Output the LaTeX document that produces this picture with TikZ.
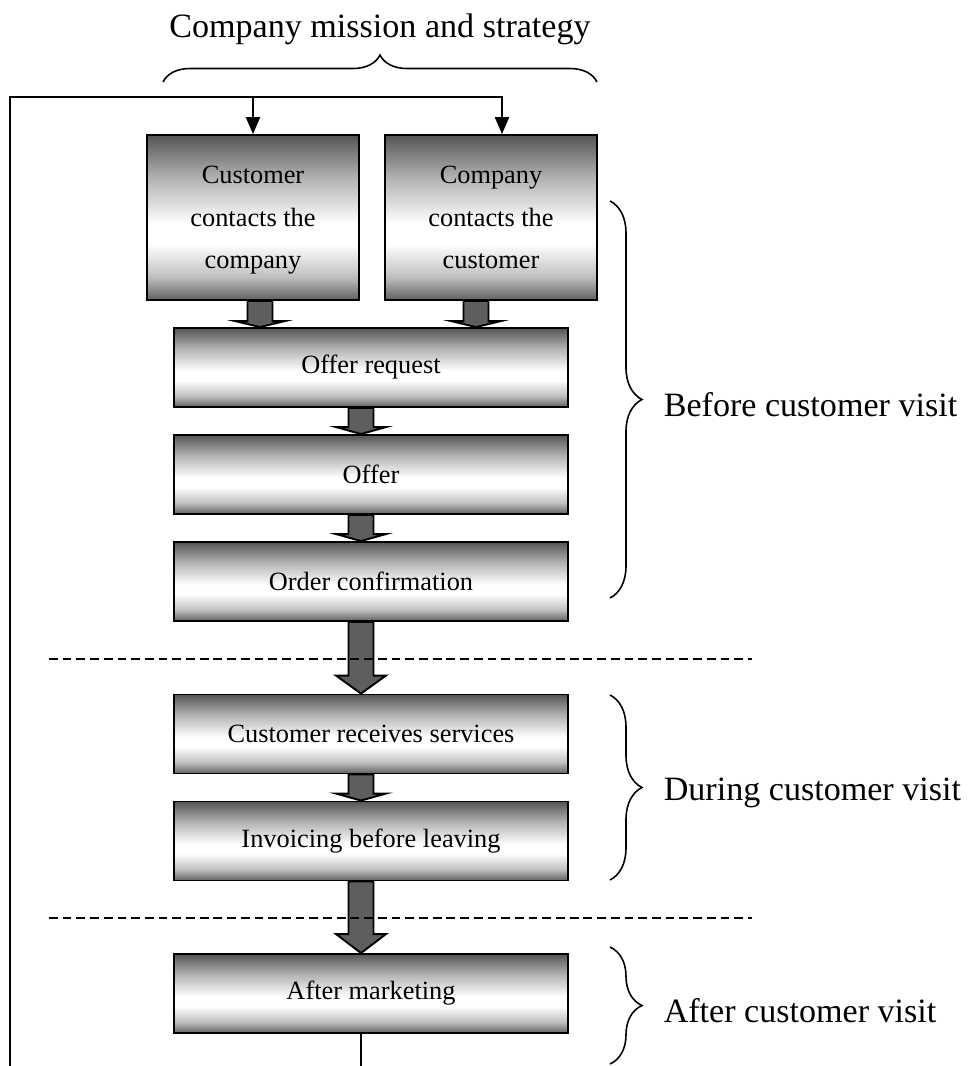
\documentclass[tikz,border=0pt]{standalone}
\usepackage{fontspec}
\setmainfont{Liberation Serif}
\usetikzlibrary{positioning,calc,arrows.meta,decorations.pathreplacing}

\pgfdeclareverticalshading{boxshade}{100bp}{color(0bp)=(black!62); color(25bp)=(black!62); color(32bp)=(black!25); color(42bp)=(white); color(48bp)=(white); color(62bp)=(black!30); color(75bp)=(black!67); color(100bp)=(black!67)}

\tikzset{
  stepbox/.style={draw=black, line width=1.1pt, shading=boxshade, inner sep=0pt,
    align=center, font=\fontsize{15pt}{24.4pt}\selectfont},
  widebox/.style={stepbox, minimum width=7.88cm, minimum height=1.58cm},
  topbox/.style={stepbox, minimum width=4.24cm, minimum height=3.3cm},
  fatarrow/.style={draw=black, line width=1.1pt, fill=black!63, line join=miter},
  loopline/.style={black, line width=1pt},
  sepline/.style={black, line width=0.9pt, dash pattern=on 5pt off 2.8pt},
  brc/.style={black, line width=0.9pt, decorate},
  lbl/.style={inner sep=0pt, font=\fontsize{19.4pt}{23pt}\selectfont}
}

\newcommand{\fatarrow}[4]{%
  \filldraw[fatarrow] ($(#1,0 |- #2.south)+(-12.5,0)$) -- ($(#1,0 |- #3.north)+(-12.5,#4)$)
    -- ++(-12.5,0) -- (#1,0 |- #3.north) -- ($(#1,0 |- #3.north)+(25,#4)$)
    -- ++(-12.5,0) -- ($(#1,0 |- #2.south)+(12.5,0)$) -- cycle;}

\begin{document}
\begin{tikzpicture}[x=0.02cm, y=0.02cm]
\useasboundingbox (0,0) rectangle (970,-1066);

\node[topbox] (custc) at (253,-217.5) {Customer\strut\\contacts the\\company\strut};
\node[topbox] (compc) at (491,-217.5) {Company\strut\\contacts the\\customer\strut};
\node[widebox] (oreq) at (371,-367.5) {Offer request};
\node[widebox] (offer) at (371,-474.5) {Offer};
\node[widebox] (oconf) at (371,-581.5) {Order confirmation};
\node[widebox] (recv) at (371,-734) {Customer receives services};
\node[widebox] (invo) at (371,-841) {Invoicing before leaving};
\node[widebox] (aftm) at (371,-993.5) {After marketing};

\fatarrow{260}{custc}{oreq}{6}
\fatarrow{476}{compc}{oreq}{6}
\fatarrow{361}{oreq}{offer}{7}
\fatarrow{361}{offer}{oconf}{7}
\fatarrow{361}{oconf}{recv}{18}
\fatarrow{361}{recv}{invo}{7}
\fatarrow{361}{invo}{aftm}{19}

\draw[sepline] (49,-659) -- (752,-659);
\draw[sepline] (49,-918) -- (752,-918);

\draw[loopline, -{Triangle[length=9.6pt,width=8pt]}] (10,-1066) -- (10,-97) -- (502,-97)
    -- (502,0 |- compc.north);
\draw[loopline, -{Triangle[length=9.6pt,width=8pt]}] (253,-97) -- (custc.north);
\draw[loopline] (aftm.south -| 361,0) -- (361,-1066);

\draw[brc, decoration={brace, amplitude=0.54cm}] (163,-82) -- (597,-82)
    node[midway, above=0.72cm, lbl] (mission) {Company mission and strategy};
\draw[brc, decoration={brace, amplitude=0.64cm}] (610,-201) -- (610,-598)
    node[midway, right=1.06cm, yshift=-0.1cm, lbl] (before) {Before customer visit};
\draw[brc, decoration={brace, amplitude=0.64cm}] (610,-695) -- (610,-880)
    node[midway, right=1.06cm, yshift=-0.1cm, lbl] (during) {During customer visit};
\draw[brc, decoration={brace, amplitude=0.64cm}] (610,-947) -- (610,-1064)
    node[midway, right=1.06cm, yshift=-0.1cm, lbl] (after) {After customer visit};
\end{tikzpicture}
\end{document}
